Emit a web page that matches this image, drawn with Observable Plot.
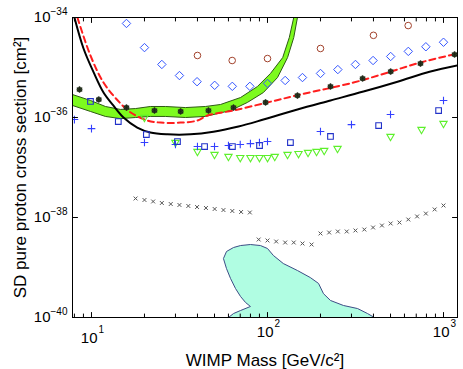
<!DOCTYPE html>
<html><head><meta charset="utf-8">
<script src="https://cdn.jsdelivr.net/npm/d3@7"></script>
<script src="https://cdn.jsdelivr.net/npm/@observablehq/plot@0.6"></script>
<style>body{margin:0;background:#fff;}</style>
</head><body><div id="chart"></div>
<script>
// ---- data (WIMP mass in GeV/c^2, cross section in cm^2) ----
const diamondMass  = [15.8, 20.0, 25.1, 31.6, 39.8, 50.1, 63.1, 79.4, 100, 126, 158, 200, 251, 316, 398, 501, 631, 794, 1000];
const diamondSigma = [7.6e-35, 2.5e-35, 1.15e-35, 6.9e-36, 5.2e-36, 4.4e-36, 4.2e-36, 4.2e-36, 4.8e-36, 5.5e-36, 6.3e-36, 7.6e-36, 9.1e-36, 1.15e-35, 1.38e-35, 1.66e-35, 2.1e-35, 2.6e-35, 3.2e-35];

const circleMass  = [40, 63, 100, 200, 400, 630];
const circleSigma = [1.74e-35, 1.38e-35, 1.51e-35, 2.4e-35, 4.4e-35, 6.9e-35];

const starMass  = [8.55, 11.0, 15.8, 22.8, 32.1, 46.2, 64.1, 97.5, 148, 228, 347, 501, 740, 1156];
const starSigma = [3.63e-36, 2.29e-36, 1.58e-36, 1.38e-36, 1.32e-36, 1.38e-36, 1.58e-36, 2.0e-36, 2.75e-36, 4.17e-36, 6.03e-36, 8.3e-36, 1.2e-35, 1.82e-35];

const squareMass  = [9.87, 14.2, 20.5, 30.8, 43.9, 63.2, 90.1, 135, 228, 428, 938];
const squareSigma = [2.09e-36, 8.3e-37, 4.57e-37, 3.31e-37, 2.63e-37, 2.63e-37, 2.75e-37, 3.16e-37, 4.17e-37, 6.9e-37, 1.38e-36];

const plusMass  = [8, 10, 20, 30, 40, 50, 60, 70, 80, 90, 100, 200, 300, 500, 1000];
const plusSigma = [9.1e-37, 6.0e-37, 3.16e-37, 2.88e-37, 2.63e-37, 2.63e-37, 2.75e-37, 2.88e-37, 3.0e-37, 3.16e-37, 3.31e-37, 5.25e-37, 7.2e-37, 1.15e-36, 2.19e-36];

const triMass  = [20, 30, 40, 50, 60, 70, 80, 90, 100, 110, 130, 150, 170, 190, 210, 250, 500, 750, 1000];
const triSigma = [1.0e-36, 3.16e-37, 2.09e-37, 1.82e-37, 1.66e-37, 1.58e-37, 1.58e-37, 1.58e-37, 1.58e-37, 1.66e-37, 1.82e-37, 1.9e-37, 2.0e-37, 2.09e-37, 2.19e-37, 2.4e-37, 4.17e-37, 5.75e-37, 7.6e-37];

const timesMass  = [17.8, 20.0, 22.4, 25.1, 28.2, 31.6, 35.5, 39.8, 44.7, 50.1, 56.2, 63.1, 70.8, 79.4,
                    89.1, 100, 112, 126, 141, 158, 178, 200, 224, 251, 282, 316, 355, 398, 447, 501, 562, 631, 708, 794, 891, 1000];
const timesSigma = [2.40e-38, 2.24e-38, 2.09e-38, 1.95e-38, 1.86e-38, 1.78e-38, 1.70e-38, 1.62e-38, 1.55e-38, 1.48e-38, 1.41e-38, 1.35e-38, 1.29e-38, 1.26e-38,
                    3.63e-39, 3.47e-39, 3.31e-39, 3.16e-39, 3.16e-39, 3.02e-39, 2.88e-39, 4.79e-39, 5.01e-39, 5.25e-39, 5.25e-39, 5.50e-39, 5.75e-39, 6.31e-39, 6.92e-39, 7.59e-39, 7.94e-39, 9.12e-39, 1.05e-38, 1.20e-38, 1.45e-38, 1.74e-38];

const redMass  = [8.32, 9.86, 11.7, 14.1, 16.7, 20.8, 24.7, 32.1, 40.0, 45.6, 64.1, 100, 154, 308, 481, 740, 1202];
const redSigma = [1e-34, 1.74e-35, 5.0e-36, 2.19e-36, 1.26e-36, 8.7e-37, 7.9e-37, 7.9e-37, 8.7e-37, 1.1e-36, 1.38e-36, 2.0e-36, 2.88e-36, 5.0e-36, 7.9e-36, 1.26e-35, 1.9e-35];

const blackMass  = [8.0, 9.01, 10.3, 11.7, 13.3, 15.2, 18.2, 21.6, 27.0, 36.5, 49.3, 68.4, 94.8, 148, 228, 351, 548, 844, 1202];
const blackSigma = [1e-34, 2.4e-35, 7.9e-36, 3.16e-36, 1.74e-36, 1.0e-36, 6.3e-37, 5.0e-37, 4.6e-37, 4.6e-37, 5.2e-37, 6.6e-37, 9.1e-37, 1.45e-36, 2.19e-36, 3.3e-36, 5.2e-36, 8.3e-36, 1.1e-35];

const bandUpperMass  = [7.8, 9.87, 12.0, 14.6, 17.8, 21.6, 26.3, 34.2, 44.4, 54.1, 70.3, 87.7, 104, 122, 133, 141];
const bandUpperSigma = [2.88e-36, 2.19e-36, 1.66e-36, 1.45e-36, 1.51e-36, 1.66e-36, 1.66e-36, 1.58e-36, 1.66e-36, 1.82e-36, 2.51e-36, 4.17e-36, 7.6e-36, 1.58e-35, 3.98e-35, 1e-34];
const bandLowerMass  = [7.8, 9.87, 12.0, 14.6, 17.8, 21.6, 26.3, 34.2, 44.4, 61.7, 76.9, 94.8, 114, 130, 141, 148];
const bandLowerSigma = [1.74e-36, 1.32e-36, 1.05e-36, 9.5e-37, 1.0e-36, 1.05e-36, 1.05e-36, 1.0e-36, 1.05e-36, 1.38e-36, 2.0e-36, 3.16e-36, 6.3e-36, 1.58e-35, 3.98e-35, 1e-34];

const regionMass  = [60.0, 64.1, 70.3, 80.0, 75.0, 70.3, 65.8, 61.7, 58.5, 56.2, 58.5, 64.1, 70.3, 80.0, 91.2, 100, 108, 123, 148, 175, 195, 208, 228, 270, 325, 370, 405];
const regionSigma = [1e-40, 1.2e-40, 1.38e-40, 1.66e-40, 2.0e-40, 2.63e-40, 3.8e-40, 6.0e-40, 9.5e-40, 1.51e-39, 2.09e-39, 2.51e-39, 2.75e-39, 2.88e-39, 2.75e-39, 2.4e-39, 1.74e-39, 1.2e-39, 8.7e-40, 6.3e-40, 4.8e-40, 3.0e-40, 2.19e-40, 1.74e-40, 1.51e-40, 1.2e-40, 1e-40];

const xMajor = [10, 100, 1000];
const xMajorExp = ["1", "2", "3"];
const xMinor = [8, 9, 20, 30, 40, 50, 60, 70, 80, 90, 200, 300, 400, 500, 600, 700, 800, 900];
const yMajor = [1e-40, 1e-38, 1e-36, 1e-34];
const yMajorExp = ["\u221240", "\u221238", "\u221236", "\u221234"];

// ---- helpers ----
const pts = (m, s) => m.map((x, i) => ({x, y: s[i]}));
const band = pts(bandUpperMass, bandUpperSigma).concat(pts(bandLowerMass, bandLowerSigma).reverse());
const tickShape = {draw(ctx, l) { ctx.moveTo(0, 0); ctx.lineTo(0, -l); }};
const font = "Liberation Sans, Arial, Helvetica, sans-serif";
const xLab = xMajor.map((v, i) => ({v, e: xMajorExp[i]}));
const xLabLow = xLab.slice(0, 1), xLabHigh = xLab.slice(1);

const chart = Plot.plot({
  width: 463, height: 369,
  marginLeft: 72, marginRight: 6, marginTop: 17, marginBottom: 52,
  x: {type: "log", domain: [7.8, 1201], axis: null},
  y: {type: "log", domain: [1e-40, 1e-34], axis: null},
  style: {fontFamily: font, background: "white", color: "black"},
  marks: [
    Plot.line(pts(regionMass, regionSigma), {x: "x", y: "y", fill: "#b0fde2", stroke: "#3d4d86", strokeWidth: 1, curve: "linear-closed", clip: true}),
    Plot.line(band, {x: "x", y: "y", fill: "#7dfa1e", stroke: "#2e5a14", strokeWidth: 1, curve: "linear-closed", clip: true}),
    Plot.line(pts(blackMass, blackSigma), {x: "x", y: "y", stroke: "black", strokeWidth: 2, curve: "catmull-rom", clip: true}),
    Plot.line(pts(redMass, redSigma), {x: "x", y: "y", stroke: "#ff1e1e", strokeWidth: 2, strokeDasharray: "6,4", curve: "catmull-rom", clip: true}),
    Plot.dot(pts(timesMass, timesSigma), {x: "x", y: "y", symbol: "times", r: 1.9, stroke: "#555", strokeWidth: 1}),
    Plot.dot(pts(triMass, triSigma), {x: "x", y: "y", symbol: "triangle2", rotate: 180, r: 3.5, stroke: "#5cf02a", strokeWidth: 1.1}),
    Plot.dot(pts(plusMass, plusSigma), {x: "x", y: "y", symbol: "plus", r: 2.6, stroke: "#3440ff", strokeWidth: 1.1, clip: true}),
    Plot.dot(pts(squareMass, squareSigma), {x: "x", y: "y", symbol: "square2", r: 3.6, stroke: "#2232c8", strokeWidth: 1.1}),
    Plot.dot(pts(diamondMass, diamondSigma), {x: "x", y: "y", symbol: "diamond2", r: 3.8, stroke: "#3355ff", strokeWidth: 1}),
    Plot.dot(pts(circleMass, circleSigma), {x: "x", y: "y", symbol: "circle", r: 3.3, stroke: "#a2422c", strokeWidth: 1}),
    Plot.dot(pts(starMass, starSigma), {x: "x", y: "y", r: 2.6, fill: "#34432a", stroke: "#1e2818", strokeWidth: 0.6}),
    Plot.dot(pts(starMass, starSigma), {x: "x", y: "y", symbol: "asterisk", r: 3.0, stroke: "#1a2214", strokeWidth: 0.8}),
    Plot.frame({stroke: "black", strokeWidth: 1}),
    // inward ticks
    Plot.vector(xMajor, {x: d => d, frameAnchor: "bottom", rotate: 0, length: 5, anchor: "start", shape: tickShape, strokeWidth: 1}),
    Plot.vector(xMajor, {x: d => d, frameAnchor: "top", rotate: 180, length: 5, anchor: "start", shape: tickShape, strokeWidth: 1}),
    Plot.vector(xMinor, {x: d => d, frameAnchor: "bottom", rotate: 0, length: 3.5, anchor: "start", shape: tickShape, strokeWidth: 1}),
    Plot.vector(xMinor, {x: d => d, frameAnchor: "top", rotate: 180, length: 3.5, anchor: "start", shape: tickShape, strokeWidth: 1}),
    Plot.vector(yMajor, {y: d => d, frameAnchor: "left", rotate: 90, length: 5, anchor: "start", shape: tickShape, strokeWidth: 1}),
    Plot.vector(yMajor, {y: d => d, frameAnchor: "right", rotate: -90, length: 5, anchor: "start", shape: tickShape, strokeWidth: 1}),
    // tick labels
    Plot.text(xLabHigh, {x: "v", frameAnchor: "bottom", text: () => "10", textAnchor: "end", dx: 6, dy: 14.5, fontSize: 15, lineAnchor: "middle"}),
    Plot.text(xLabHigh, {x: "v", frameAnchor: "bottom", text: "e", textAnchor: "start", dx: 7, dy: 6.5, fontSize: 10, lineAnchor: "middle"}),
    Plot.text(xLabLow, {x: "v", frameAnchor: "bottom", text: () => "10", textAnchor: "end", dx: 6, dy: 20.5, fontSize: 15, lineAnchor: "middle"}),
    Plot.text(xLabLow, {x: "v", frameAnchor: "bottom", text: "e", textAnchor: "start", dx: 7, dy: 12.5, fontSize: 10, lineAnchor: "middle"}),
    Plot.text(yMajor, {y: d => d, frameAnchor: "left", text: () => "10", textAnchor: "end", dx: -22, dy: 0, fontSize: 15, lineAnchor: "middle"}),
    Plot.text(yMajor, {y: d => d, frameAnchor: "left", text: (d, i) => yMajorExp[i], textAnchor: "end", dx: -5, dy: -5.5, fontSize: 10, lineAnchor: "middle"}),
    // axis titles
    Plot.text(["WIMP Mass [GeV/c\u00b2]"], {frameAnchor: "bottom", text: d => d, textAnchor: "middle", dy: 43, fontSize: 17, lineAnchor: "middle"}),
    Plot.text(["SD pure proton cross section [cm\u00b2]"], {frameAnchor: "left", text: d => d, textAnchor: "middle", rotate: -90, dx: -52, fontSize: 17, lineAnchor: "middle"})
  ]
});
document.getElementById("chart").appendChild(chart);
</script>
</body></html>
